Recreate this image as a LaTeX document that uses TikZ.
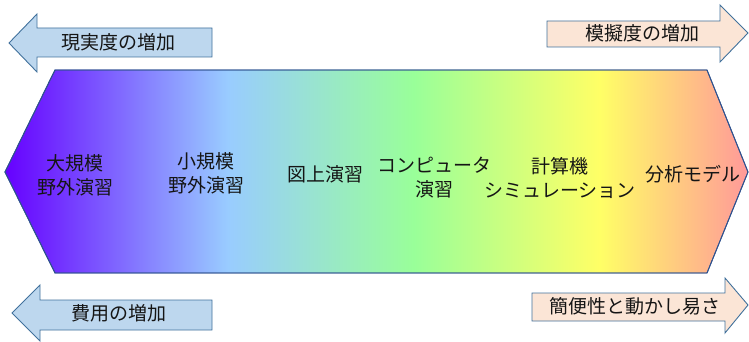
\documentclass[tikz,border=0pt]{standalone}
\usepackage{fontspec}
\setmainfont{Noto Sans CJK JP}
\usetikzlibrary{shadings}
\definecolor{cA}{HTML}{6600FF}
\definecolor{cB}{HTML}{99CCFF}
\definecolor{cC}{HTML}{99FF99}
\definecolor{cD}{HTML}{FFFF66}
\definecolor{cE}{HTML}{FF9999}
\definecolor{blueFill}{HTML}{BDD7EE}
\definecolor{peachFill}{HTML}{FBE5D6}
\definecolor{edgeBlue}{HTML}{41719C}
\definecolor{hexEdge}{HTML}{2F528F}
\definecolor{txt}{HTML}{151515}
\pgfdeclarehorizontalshading{spectrum}{100bp}{color(0bp)=(cA); color(25bp)=(cA); color(40bp)=(cB); color(52.5bp)=(cC); color(65bp)=(cD); color(75bp)=(cE); color(100bp)=(cE)}
\tikzset{
  lbl/.style={text=txt, font=\fontsize{19}{24}\selectfont, align=center, inner sep=0pt},
  leftarrow/.style={draw=edgeBlue, fill=blueFill, line width=0.9pt, line join=miter},
  rightarrow/.style={draw=edgeBlue, fill=peachFill, line width=0.9pt, line join=miter},
  band/.style={draw=hexEdge, shading=spectrum, line width=0.9pt}
}
\begin{document}
\begin{tikzpicture}[x=1pt,y=-1pt]
\useasboundingbox (0,0) rectangle (749,342);
% hexagon band
\coordinate (hL) at (5,172);
\coordinate (hTL) at (55,70);
\coordinate (hTR) at (707,70);
\coordinate (hR) at (748,172);
\coordinate (hBR) at (707,273);
\coordinate (hBL) at (55,273);
\path[band] (hL) -- (hTL) -- (hTR) -- (hR) -- (hBR) -- (hBL) -- cycle;
\draw[hexEdge, line width=0.9pt] (hL) -- (hTL) -- (hTR) -- (hR) -- (hBR) -- (hBL) -- cycle;
% arrows
\draw[leftarrow] (9,43) -- (37,14) -- (37,28) -- (212,28) -- (212,57) -- (37,57) -- (37,72) -- cycle;
\draw[rightarrow] (748,33) -- (720,5) -- (720,21) -- (547,21) -- (547,47) -- (720,47) -- (720,62) -- cycle;
\draw[leftarrow] (12,313) -- (40,285) -- (40,300) -- (212,300) -- (212,330) -- (40,330) -- (40,341) -- cycle;
\draw[rightarrow] (748,305) -- (725,278) -- (725,293) -- (532,293) -- (532,321) -- (725,321) -- (725,333) -- cycle;
% arrow labels
\node[lbl] (t1) at (118,42) {現実度の増加};
\node[lbl] (t2) at (642,33) {模擬度の増加};
\node[lbl] (t3) at (119,313) {費用の増加};
\node[lbl] (t4) at (635,306) {簡便性と動かし易さ};
% band labels
\node[lbl] (n1) at (75,175) {大規模\\野外演習};
\node[lbl] (n2) at (206,173) {小規模\\野外演習};
\node[lbl] (n3) at (325,174) {図上演習};
\node[lbl] (n4) at (434,178) {コンピュータ\\演習};
\node[lbl] (n5) at (560,178) {計算機\\シミュレーション};
\node[lbl] (n6) at (693,174) {分析モデル};
\end{tikzpicture}
\end{document}
